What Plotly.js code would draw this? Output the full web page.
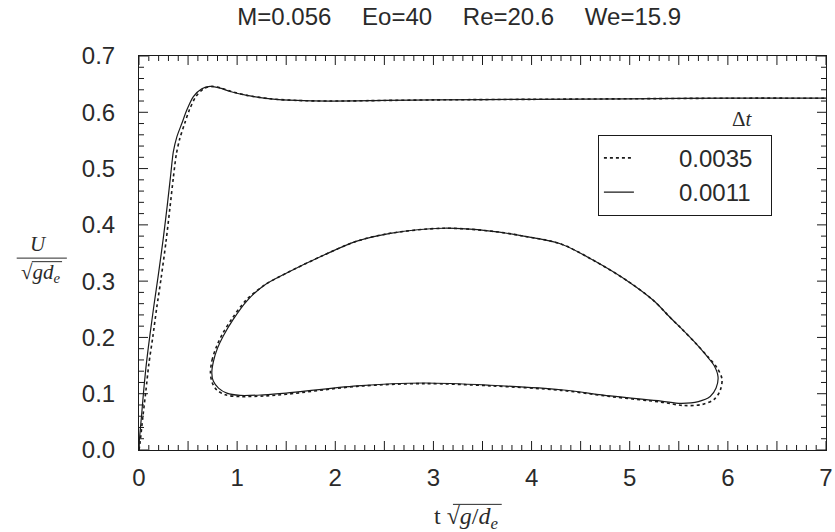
<!DOCTYPE html>
<html>
<head>
<meta charset="utf-8">
<script src="https://cdn.plot.ly/plotly-3.0.1.min.js"></script>
<style>html,body{margin:0;padding:0;background:#fff;}#chart{width:835px;height:532px;}</style>
</head>
<body>
<div id="chart"></div>
<script>
// ---- data ----
const dtLabels = ['0.0035', '0.0011'];

// velocity history, dt = 0.0011 (solid)
const tSolid = [0, 0.003, 0.027, 0.05, 0.078, 0.112, 0.153, 0.197, 0.248, 0.289, 0.323, 0.35, 0.385, 0.436, 0.487, 0.554, 0.64, 0.724, 0.827, 0.929, 1.1, 1.34, 1.61, 1.95, 2.5, 3.0, 4.0, 5.0, 6.0, 7.0];
const uSolid = [0, 0.015, 0.063, 0.110, 0.158, 0.205, 0.258, 0.311, 0.377, 0.436, 0.489, 0.530, 0.556, 0.580, 0.604, 0.628, 0.642, 0.646, 0.643, 0.637, 0.630, 0.624, 0.621, 0.620, 0.621, 0.622, 0.623, 0.624, 0.625, 0.625];

// velocity history, dt = 0.0035 (dotted)
const tDot = [0, 0.01, 0.04, 0.07, 0.10, 0.14, 0.18, 0.225, 0.275, 0.315, 0.35, 0.38, 0.415, 0.465, 0.515, 0.58, 0.66, 0.745, 0.84, 0.94, 1.1, 1.34, 1.61, 1.95, 2.5, 3.0, 4.0, 5.0, 6.0, 7.0];
const uDot = [0, 0.012, 0.060, 0.105, 0.152, 0.200, 0.252, 0.305, 0.370, 0.430, 0.484, 0.525, 0.553, 0.580, 0.605, 0.628, 0.642, 0.646, 0.643, 0.637, 0.630, 0.624, 0.621, 0.620, 0.621, 0.622, 0.623, 0.624, 0.625, 0.625];

// bubble contour (closed), dt = 0.0011 (solid)
const bxSolid = [0.742, 0.758, 0.80, 0.86, 0.96, 1.1, 1.27, 1.5, 1.88, 2.22, 2.56, 3.1, 3.58, 3.92, 4.30, 4.63, 4.98, 5.24, 5.42, 5.52, 5.66, 5.78, 5.86, 5.90, 5.88, 5.82, 5.70, 5.52, 5.32, 4.8, 4.30, 3.58, 2.9, 2.22, 1.5, 1.27, 1.03, 0.895, 0.81, 0.758, 0.742];
const bySolid = [0.137, 0.157, 0.181, 0.203, 0.232, 0.265, 0.292, 0.314, 0.346, 0.371, 0.385, 0.394, 0.389, 0.380, 0.366, 0.337, 0.300, 0.266, 0.234, 0.217, 0.192, 0.168, 0.150, 0.130, 0.110, 0.095, 0.086, 0.083, 0.087, 0.096, 0.107, 0.115, 0.119, 0.114, 0.101, 0.098, 0.097, 0.101, 0.110, 0.122, 0.137];

// bubble contour (closed), dt = 0.0035 (dotted)
const bxDot = [0.728, 0.745, 0.79, 0.85, 0.95, 1.09, 1.27, 1.5, 1.88, 2.22, 2.56, 3.1, 3.58, 3.92, 4.30, 4.63, 4.98, 5.24, 5.42, 5.52, 5.67, 5.80, 5.89, 5.94, 5.92, 5.86, 5.74, 5.55, 5.32, 4.8, 4.30, 3.58, 2.9, 2.22, 1.5, 1.27, 1.03, 0.88, 0.79, 0.745, 0.728];
const byDot = [0.137, 0.160, 0.184, 0.206, 0.234, 0.266, 0.292, 0.314, 0.346, 0.371, 0.385, 0.394, 0.389, 0.380, 0.366, 0.337, 0.300, 0.266, 0.234, 0.217, 0.190, 0.165, 0.146, 0.126, 0.105, 0.090, 0.081, 0.079, 0.085, 0.095, 0.106, 0.114, 0.118, 0.113, 0.099, 0.096, 0.095, 0.098, 0.107, 0.120, 0.137];

const titleText = 'M=0.056\u2003 Eo=40\u2003 Re=20.6\u2003 We=15.9';

// ---- chart ----
const ink = '#1a1a1a';
const txt = '#2a2a2a';
const sans = 'Liberation Sans, Arial, sans-serif';
const serif = 'Liberation Serif, Times New Roman, serif';
const pad = '\u00a0\u00a0\u00a0\u00a0\u00a0\u00a0';
const tail = '\u00a0\u00a0';
const traces = [
  {x: tDot, y: uDot, mode: 'lines', name: pad + dtLabels[0] + tail, line: {color: ink, width: 1.6, dash: 'dot', shape: 'spline', smoothing: 0.8}, legendrank: 1},
  {x: tSolid, y: uSolid, mode: 'lines', name: pad + dtLabels[1] + tail, line: {color: ink, width: 1.2, shape: 'spline', smoothing: 0.8}, legendrank: 2},
  {x: bxDot, y: byDot, mode: 'lines', showlegend: false, line: {color: ink, width: 1.6, dash: 'dot', shape: 'spline', smoothing: 0.9}},
  {x: bxSolid, y: bySolid, mode: 'lines', showlegend: false, line: {color: ink, width: 1.2, shape: 'spline', smoothing: 0.9}}
];

// inward tick marks on all four sides, placed through the axes' own scales
// (x: every 0.1, longer every 0.5; y: every 0.02, longer every 0.1)
const tickShapes = [];
for (let i = 0; i <= 70; i++) {
  const v = i / 10;
  const len = (i % 5 === 0) ? 9 : 5;
  tickShapes.push({type: 'line', xref: 'x', yref: 'paper', ysizemode: 'pixel', yanchor: 0, x0: v, x1: v, y0: 0, y1: len, line: {color: ink, width: 1}});
  tickShapes.push({type: 'line', xref: 'x', yref: 'paper', ysizemode: 'pixel', yanchor: 1, x0: v, x1: v, y0: 0, y1: -len, line: {color: ink, width: 1}});
}
for (let j = 0; j <= 35; j++) {
  const v = j / 50;
  const len = (j % 5 === 0) ? 9 : 5;
  tickShapes.push({type: 'line', xref: 'paper', yref: 'y', xsizemode: 'pixel', xanchor: 0, y0: v, y1: v, x0: 0, x1: len, line: {color: ink, width: 1}});
  tickShapes.push({type: 'line', xref: 'paper', yref: 'y', xsizemode: 'pixel', xanchor: 1, y0: v, y1: v, x0: 0, x1: -len, line: {color: ink, width: 1}});
}

const labelShapes = [
  // fraction bar and radical over-bars of the axis titles
  {type: 'line', xref: 'paper', yref: 'paper', x0: -0.178, x1: -0.105, y0: 0.487, y1: 0.487, line: {color: txt, width: 1}},
  {type: 'line', xref: 'paper', yref: 'paper', x0: -0.156, x1: -0.112, y0: 0.478, y1: 0.478, line: {color: txt, width: 1}},
  {type: 'line', xref: 'paper', yref: 'paper', x0: 0.457, x1: 0.528, y0: -0.138, y1: -0.138, line: {color: txt, width: 1}}
];

const layout = {
  width: 835, height: 532,
  margin: {l: 139, r: 9, t: 56, b: 82},
  paper_bgcolor: '#ffffff', plot_bgcolor: '#ffffff',
  font: {family: sans, size: 24, color: txt},
  showlegend: true,
  title: {text: titleText, font: {family: sans, size: 24, color: txt}, x: 0.55, xanchor: 'center', y: 0.968, yanchor: 'middle'},
  xaxis: {
    range: [0, 7], tickmode: 'linear', tick0: 0, dtick: 1, tickformat: 'd',
    ticks: '', showline: true, linecolor: ink, mirror: true, showgrid: false, zeroline: false,
    ticklabelstandoff: 6
  },
  yaxis: {
    range: [0, 0.7], tickmode: 'linear', tick0: 0, dtick: 0.1, tickformat: '.1f',
    ticks: '', showline: true, linecolor: ink, mirror: true, showgrid: false, zeroline: false,
    ticklabelstandoff: 18
  },
  legend: {
    x: 0.668, xanchor: 'left', y: 0.80, yanchor: 'top',
    bordercolor: ink, borderwidth: 1, bgcolor: '#ffffff',
    font: {family: sans, size: 24, color: txt},
    tracegroupgap: 0
  },
  annotations: [
    {xref: 'paper', yref: 'paper', x: 0.878, xanchor: 'center', y: 0.84, yanchor: 'middle', text: '\u0394<i>t</i>', showarrow: false,
     font: {family: serif, size: 21, color: txt}},
    {xref: 'paper', yref: 'paper', x: -0.146, xanchor: 'center', y: 0.523, yanchor: 'middle', text: '<i>U</i>', showarrow: false,
     font: {family: serif, size: 21, color: txt}},
    {xref: 'paper', yref: 'paper', x: -0.143, xanchor: 'center', y: 0.448, yanchor: 'middle', text: '\u221A<i>gd<sub>e</sub></i>', showarrow: false,
     font: {family: serif, size: 21, color: txt}},
    {xref: 'paper', yref: 'paper', x: 0.477, xanchor: 'center', y: -0.172, yanchor: 'middle', text: 't \u221A<i>g</i>/<i>d<sub>e</sub></i>', showarrow: false,
     font: {family: serif, size: 24, color: txt}}
  ],
  shapes: tickShapes.concat(labelShapes)
};

Plotly.newPlot('chart', traces, layout, {displayModeBar: false, staticPlot: true});
</script>
</body>
</html>
